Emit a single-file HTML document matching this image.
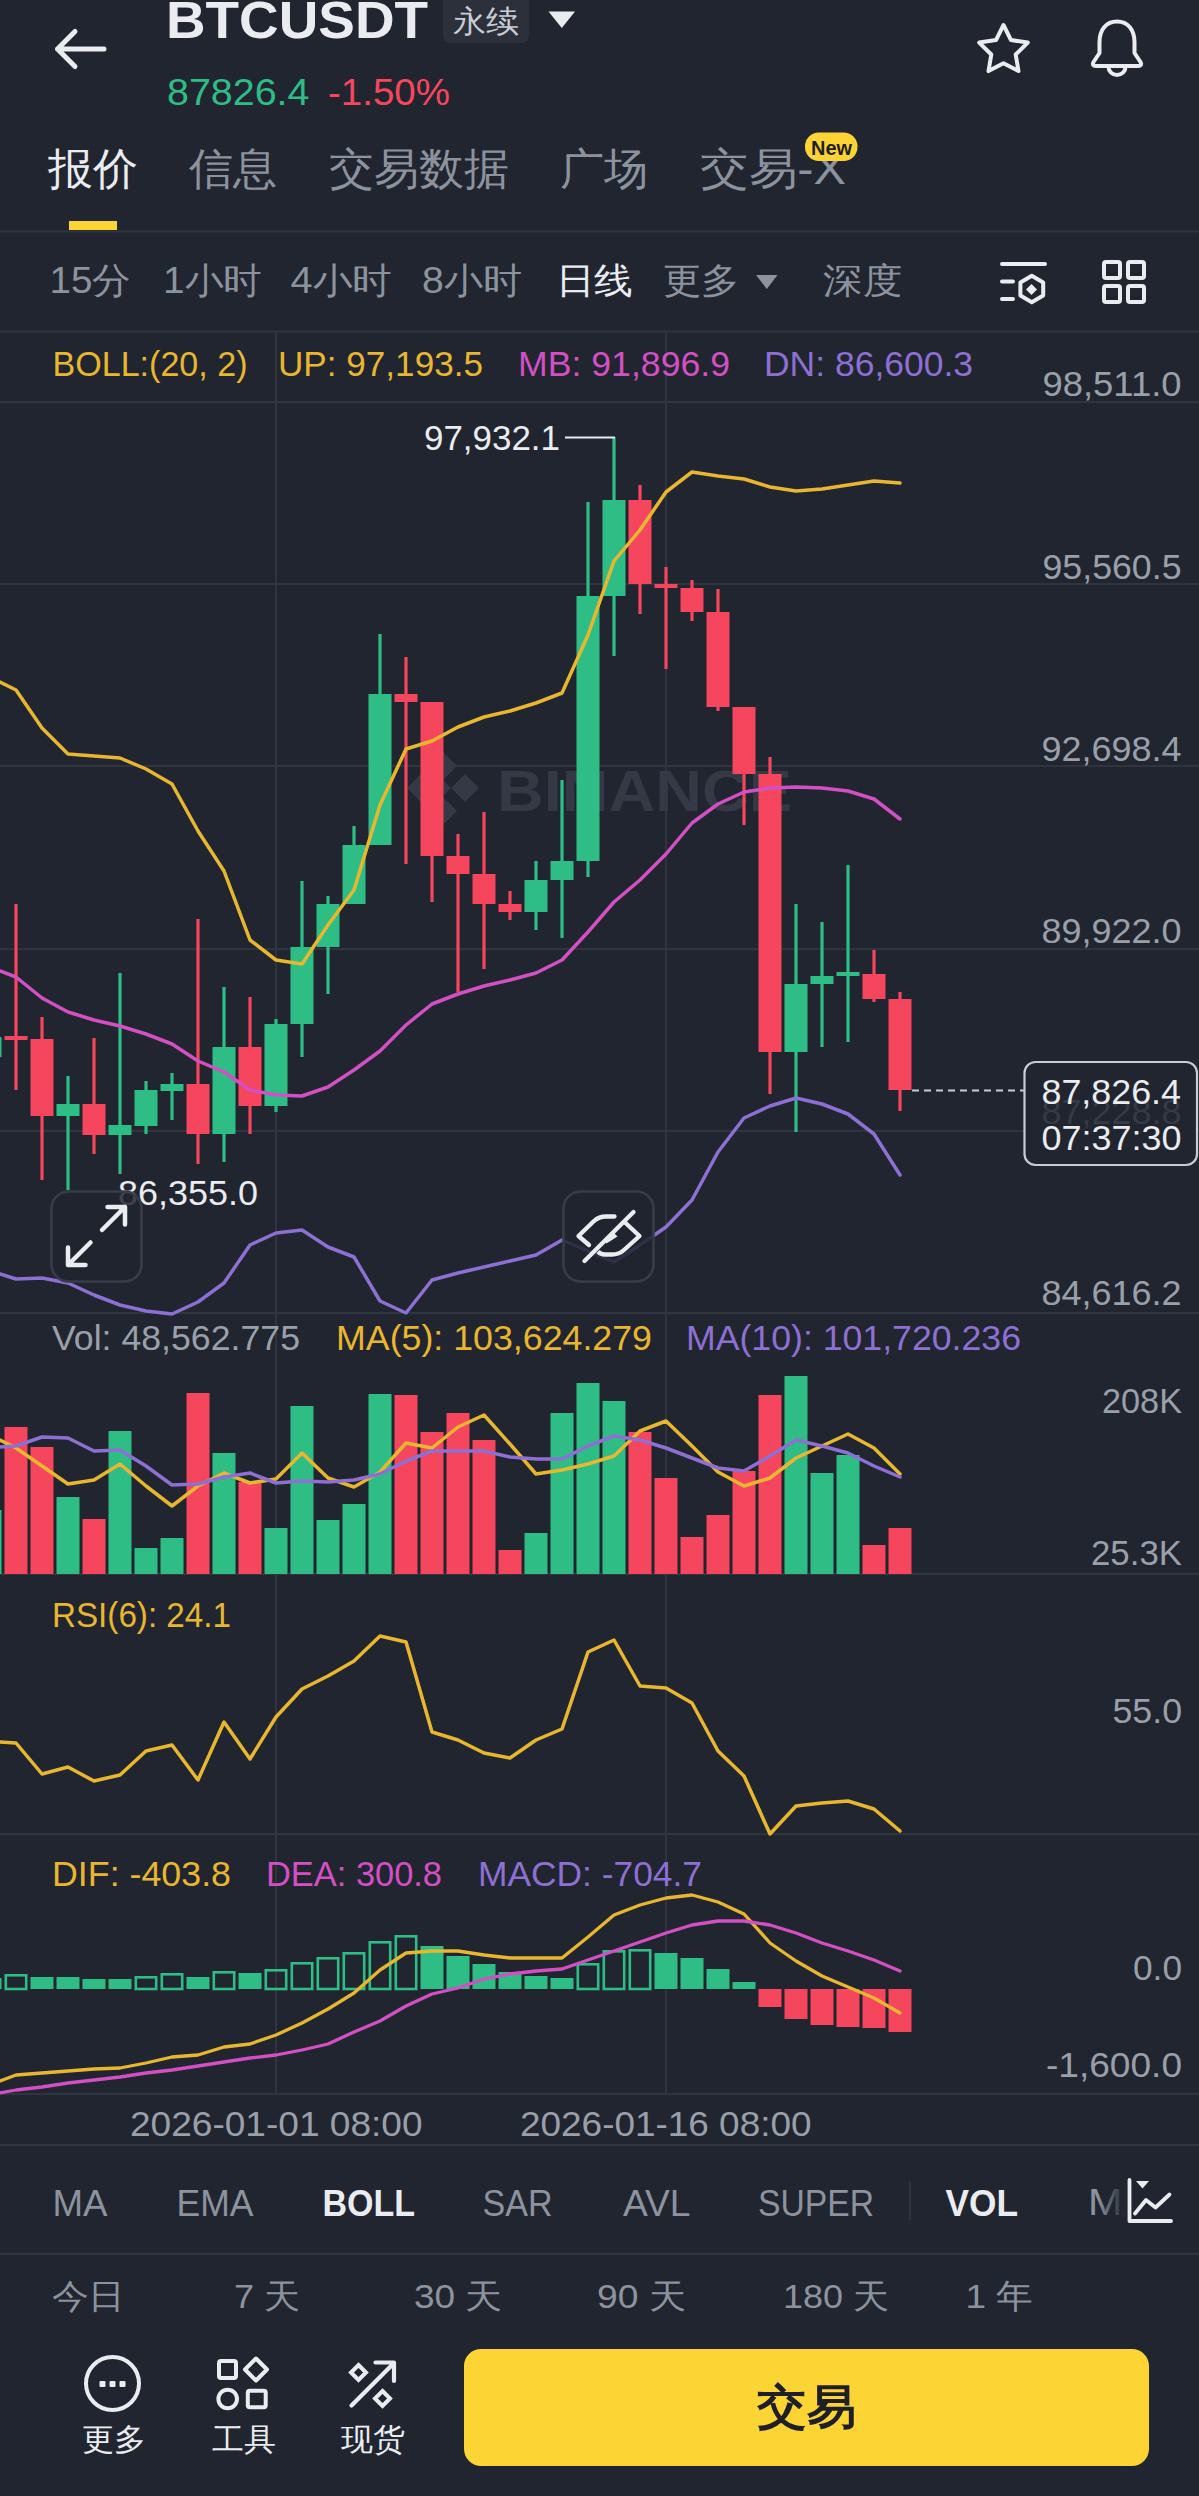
<!DOCTYPE html><html><head><meta charset="utf-8"><title>BTCUSDT</title><style>
html,body{margin:0;padding:0;background:#20252f;}
body{width:1199px;height:2496px;overflow:hidden;position:relative;font-family:"Liberation Sans", sans-serif;}
svg{position:absolute;left:0;top:0;display:block;}
text{font-family:"Liberation Sans", sans-serif;}
</style></head><body>
<svg width="1199" height="2496" viewBox="0 0 1199 2496">
<rect x="0" y="0" width="1199" height="2496" fill="#20252f"/>
<path d="M57.5 49 H104 M75 31.5 L57.5 49 L75 66.5" fill="none" stroke="#eaecef" stroke-width="5" stroke-linecap="round" stroke-linejoin="round"/>
<text x="166" y="38" font-size="52" fill="#eaecef" font-weight="bold" text-anchor="start" textLength="262" lengthAdjust="spacingAndGlyphs" >BTCUSDT</text>
<rect x="443" y="-8" width="86" height="51" rx="7" fill="#2b303b"/>
<text x="453" y="32" font-size="31" fill="#c9ccd2" font-weight="500" text-anchor="start" textLength="66" lengthAdjust="spacingAndGlyphs" >永续</text>
<path d="M548.5 11.5 H575 L561.8 28 Z" fill="#eaecef"/>
<text x="167" y="105" font-size="37" fill="#2ebd85" font-weight="normal" text-anchor="start" textLength="142.5" lengthAdjust="spacingAndGlyphs" >87826.4</text>
<text x="328" y="105" font-size="37" fill="#f6465d" font-weight="normal" text-anchor="start" textLength="122" lengthAdjust="spacingAndGlyphs" >-1.50%</text>
<polygon points="1003.5,25.0 1011.0,40.1 1027.8,42.6 1015.7,54.5 1018.5,71.1 1003.5,63.3 988.5,71.1 991.3,54.5 979.2,42.6 996.0,40.1" fill="none" stroke="#eaecef" stroke-width="4" stroke-linejoin="round"/>
<path d="M1117 21.5 C1106 21.5 1099.5 30 1099.5 42 V53 L1093.5 62 Q1091.5 66 1096 66 H1138 Q1142.5 66 1140.5 62 L1134.5 53 V42 C1134.5 30 1128 21.5 1117 21.5 Z" fill="none" stroke="#eaecef" stroke-width="4" stroke-linejoin="round"/>
<path d="M1108.5 67 A8.5 8 0 0 0 1125.5 67" fill="none" stroke="#eaecef" stroke-width="4"/>
<text x="48" y="184" font-size="44" fill="#eaecef" font-weight="500" text-anchor="start" textLength="90" lengthAdjust="spacingAndGlyphs" >报价</text>
<text x="189" y="184" font-size="44" fill="#8c939e" font-weight="500" text-anchor="start" textLength="88" lengthAdjust="spacingAndGlyphs" >信息</text>
<text x="329" y="184" font-size="44" fill="#8c939e" font-weight="500" text-anchor="start" textLength="180" lengthAdjust="spacingAndGlyphs" >交易数据</text>
<text x="560" y="184" font-size="44" fill="#8c939e" font-weight="500" text-anchor="start" textLength="88" lengthAdjust="spacingAndGlyphs" >广场</text>
<text x="700" y="184" font-size="44" fill="#8c939e" font-weight="500" text-anchor="start" textLength="146" lengthAdjust="spacingAndGlyphs" >交易-X</text>
<rect x="805" y="132.5" width="52.5" height="28.5" rx="14" fill="#fcd535"/>
<text x="811" y="154.5" font-size="21" fill="#1e2026" font-weight="bold" text-anchor="start" textLength="41" lengthAdjust="spacingAndGlyphs" >New</text>
<rect x="69" y="221" width="48" height="9" fill="#fcd535"/>
<rect x="0" y="230.5" width="1199" height="2" fill="#2f343e"/>
<text x="49.5" y="293" font-size="36" fill="#8c939e" font-weight="500" text-anchor="start" textLength="81.5" lengthAdjust="spacingAndGlyphs" >15分</text>
<text x="163" y="293" font-size="36" fill="#8c939e" font-weight="500" text-anchor="start" textLength="99" lengthAdjust="spacingAndGlyphs" >1小时</text>
<text x="290.5" y="293" font-size="36" fill="#8c939e" font-weight="500" text-anchor="start" textLength="101.5" lengthAdjust="spacingAndGlyphs" >4小时</text>
<text x="422" y="293" font-size="36" fill="#8c939e" font-weight="500" text-anchor="start" textLength="100" lengthAdjust="spacingAndGlyphs" >8小时</text>
<text x="555.5" y="293" font-size="36" fill="#eaecef" font-weight="500" text-anchor="start" textLength="77.5" lengthAdjust="spacingAndGlyphs" >日线</text>
<text x="663" y="293" font-size="36" fill="#8c939e" font-weight="500" text-anchor="start" textLength="76.5" lengthAdjust="spacingAndGlyphs" >更多</text>
<text x="823" y="293" font-size="36" fill="#8c939e" font-weight="500" text-anchor="start" textLength="79" lengthAdjust="spacingAndGlyphs" >深度</text>
<path d="M756 275 H777.5 L766.8 289 Z" fill="#8c939e"/>
<path d="M1002 264 H1045 M1002 281.5 H1013 M1002 299 H1013" stroke="#eaecef" stroke-width="4" stroke-linecap="round" fill="none"/>
<path d="M1031.8 275.8 L1043.2 282.4 V295.6 L1031.8 302.2 L1020.4 295.6 V282.4 Z" fill="none" stroke="#eaecef" stroke-width="4" stroke-linejoin="round"/>
<path d="M1031.5 284 L1037 289.5 L1031.5 295 L1026 289.5 Z" fill="#eaecef"/>
<rect x="1104" y="262" width="16" height="16" rx="2" fill="none" stroke="#eaecef" stroke-width="4"/>
<rect x="1128" y="262" width="16" height="16" rx="2" fill="none" stroke="#eaecef" stroke-width="4"/>
<rect x="1104" y="286" width="16" height="16" rx="2" fill="none" stroke="#eaecef" stroke-width="4"/>
<rect x="1128" y="286" width="16" height="16" rx="2" fill="none" stroke="#eaecef" stroke-width="4"/>
<rect x="0" y="330.5" width="1199" height="2" fill="#2f343e"/>
<rect x="0" y="401" width="1199" height="2" fill="#2f343e"/>
<rect x="0" y="583" width="1199" height="2" fill="#2f343e"/>
<rect x="0" y="765" width="1199" height="2" fill="#2f343e"/>
<rect x="0" y="948" width="1199" height="2" fill="#2f343e"/>
<rect x="0" y="1130" width="1199" height="2" fill="#2f343e"/>
<rect x="0" y="1312" width="1199" height="2" fill="#2f343e"/>
<rect x="0" y="1573" width="1199" height="2" fill="#2f343e"/>
<rect x="0" y="1833" width="1199" height="2" fill="#2f343e"/>
<rect x="0" y="2093" width="1199" height="2" fill="#2f343e"/>
<rect x="0" y="2144" width="1199" height="2" fill="#2f343e"/>
<rect x="0" y="2253" width="1199" height="2" fill="#2f343e"/>
<rect x="275" y="332" width="2" height="1762" fill="#2f343e"/>
<rect x="665" y="332" width="2" height="1762" fill="#2f343e"/>
<g fill="#343945">
<path d="M443 752 L457 766 L443 780 L429 766 Z"/>
<path d="M443 797 L457 811 L443 825 L429 811 Z"/>
<path d="M421 774 L435 788 L421 802 L407 788 Z"/>
<path d="M465 774 L479 788 L465 802 L451 788 Z"/>
<path d="M443 780 L451 788 L443 796 L435 788 Z"/>
</g>
<text x="497" y="811" font-size="58" fill="#343945" font-weight="bold" text-anchor="start" textLength="295" lengthAdjust="spacingAndGlyphs" >BINANCE</text>
<rect x="-11.6" y="1030" width="3.2" height="34" fill="#2ebd85"/>
<rect x="-21.5" y="1037" width="23" height="20" fill="#2ebd85"/>
<rect x="14.4" y="904" width="3.2" height="186" fill="#f6465d"/>
<rect x="4.5" y="1036" width="23" height="4" fill="#f6465d"/>
<rect x="40.4" y="1017" width="3.2" height="163" fill="#f6465d"/>
<rect x="30.5" y="1039" width="23" height="77" fill="#f6465d"/>
<rect x="66.4" y="1076" width="3.2" height="114" fill="#2ebd85"/>
<rect x="56.5" y="1104" width="23" height="12" fill="#2ebd85"/>
<rect x="92.4" y="1038" width="3.2" height="116" fill="#f6465d"/>
<rect x="82.5" y="1104" width="23" height="31" fill="#f6465d"/>
<rect x="118.4" y="973" width="3.2" height="201" fill="#2ebd85"/>
<rect x="108.5" y="1125" width="23" height="10" fill="#2ebd85"/>
<rect x="144.4" y="1081" width="3.2" height="53" fill="#2ebd85"/>
<rect x="134.5" y="1090" width="23" height="36" fill="#2ebd85"/>
<rect x="170.4" y="1073" width="3.2" height="47" fill="#2ebd85"/>
<rect x="160.5" y="1084" width="23" height="7" fill="#2ebd85"/>
<rect x="196.4" y="919" width="3.2" height="245" fill="#f6465d"/>
<rect x="186.5" y="1084" width="23" height="50" fill="#f6465d"/>
<rect x="222.4" y="987" width="3.2" height="175" fill="#2ebd85"/>
<rect x="212.5" y="1047" width="23" height="87" fill="#2ebd85"/>
<rect x="248.4" y="997" width="3.2" height="137" fill="#f6465d"/>
<rect x="238.5" y="1047" width="23" height="59" fill="#f6465d"/>
<rect x="274.4" y="1019" width="3.2" height="93" fill="#2ebd85"/>
<rect x="264.5" y="1024" width="23" height="82" fill="#2ebd85"/>
<rect x="300.4" y="881" width="3.2" height="176" fill="#2ebd85"/>
<rect x="290.5" y="947" width="23" height="77" fill="#2ebd85"/>
<rect x="326.4" y="896" width="3.2" height="98" fill="#2ebd85"/>
<rect x="316.5" y="904" width="23" height="43" fill="#2ebd85"/>
<rect x="352.4" y="826" width="3.2" height="78" fill="#2ebd85"/>
<rect x="342.5" y="845" width="23" height="59" fill="#2ebd85"/>
<rect x="378.4" y="634" width="3.2" height="211" fill="#2ebd85"/>
<rect x="368.5" y="694" width="23" height="151" fill="#2ebd85"/>
<rect x="404.4" y="657" width="3.2" height="207" fill="#f6465d"/>
<rect x="394.5" y="694" width="23" height="8" fill="#f6465d"/>
<rect x="430.4" y="702" width="3.2" height="200" fill="#f6465d"/>
<rect x="420.5" y="702" width="23" height="154" fill="#f6465d"/>
<rect x="456.4" y="834" width="3.2" height="158" fill="#f6465d"/>
<rect x="446.5" y="856" width="23" height="18" fill="#f6465d"/>
<rect x="482.4" y="812" width="3.2" height="157" fill="#f6465d"/>
<rect x="472.5" y="874" width="23" height="30" fill="#f6465d"/>
<rect x="508.4" y="891" width="3.2" height="29" fill="#f6465d"/>
<rect x="498.5" y="904" width="23" height="8" fill="#f6465d"/>
<rect x="534.4" y="861" width="3.2" height="69" fill="#2ebd85"/>
<rect x="524.5" y="880" width="23" height="32" fill="#2ebd85"/>
<rect x="560.4" y="780" width="3.2" height="158" fill="#2ebd85"/>
<rect x="550.5" y="861" width="23" height="19" fill="#2ebd85"/>
<rect x="586.4" y="502" width="3.2" height="375" fill="#2ebd85"/>
<rect x="576.5" y="596" width="23" height="265" fill="#2ebd85"/>
<rect x="612.4" y="437" width="3.2" height="219" fill="#2ebd85"/>
<rect x="602.5" y="500" width="23" height="96" fill="#2ebd85"/>
<rect x="638.4" y="485" width="3.2" height="129" fill="#f6465d"/>
<rect x="628.5" y="500" width="23" height="84" fill="#f6465d"/>
<rect x="664.4" y="567" width="3.2" height="102" fill="#f6465d"/>
<rect x="654.5" y="584" width="23" height="4" fill="#f6465d"/>
<rect x="690.4" y="580" width="3.2" height="41" fill="#f6465d"/>
<rect x="680.5" y="588" width="23" height="24" fill="#f6465d"/>
<rect x="716.4" y="589" width="3.2" height="122" fill="#f6465d"/>
<rect x="706.5" y="612" width="23" height="95" fill="#f6465d"/>
<rect x="742.4" y="707" width="3.2" height="118" fill="#f6465d"/>
<rect x="732.5" y="707" width="23" height="67" fill="#f6465d"/>
<rect x="768.4" y="757" width="3.2" height="337" fill="#f6465d"/>
<rect x="758.5" y="774" width="23" height="278" fill="#f6465d"/>
<rect x="794.4" y="904" width="3.2" height="228" fill="#2ebd85"/>
<rect x="784.5" y="984" width="23" height="68" fill="#2ebd85"/>
<rect x="820.4" y="922" width="3.2" height="125" fill="#2ebd85"/>
<rect x="810.5" y="976" width="23" height="8" fill="#2ebd85"/>
<rect x="846.4" y="865" width="3.2" height="177" fill="#2ebd85"/>
<rect x="836.5" y="972" width="23" height="4" fill="#2ebd85"/>
<rect x="872.4" y="950" width="3.2" height="52" fill="#f6465d"/>
<rect x="862.5" y="974" width="23" height="25" fill="#f6465d"/>
<rect x="898.4" y="992" width="3.2" height="119" fill="#f6465d"/>
<rect x="888.5" y="999" width="23" height="91" fill="#f6465d"/>
<polyline points="0,682 16,690 42,728 68,754 94,756 120,758 146,769 172,784 198,831 224,871 250,940 276,960 302,964 328,925 354,890 380,805 406,749 432,741 458,727 484,717 510,711 536,703 562,693 588,635 614,561 640,530 666,492 692,472 718,476 744,479 770,487 796,491 822,489 848,485 874,481 900,483" fill="none" stroke="#e9b62f" stroke-width="3.5" stroke-linejoin="round" stroke-linecap="round"/>
<polyline points="0,971 16,977 42,998 68,1012 94,1020 120,1026 146,1034 172,1044 198,1061 224,1072 250,1090 276,1095 302,1096 328,1087 354,1070 380,1051 406,1025 432,1004 458,994 484,986 510,980 536,973 562,960 588,932 614,902 640,880 666,854 692,823 718,804 744,792 770,788 796,787 822,788 848,791 874,799 900,819" fill="none" stroke="#d34fc4" stroke-width="3.5" stroke-linejoin="round" stroke-linecap="round"/>
<polyline points="0,1274 16,1279 42,1278 68,1283 94,1295 120,1305 146,1311 172,1314 198,1302 224,1283 250,1245 276,1233 302,1230 328,1247 354,1257 380,1301 406,1313 432,1280 458,1273 484,1267 510,1261 536,1255 562,1240 588,1251 614,1262 640,1245 666,1227 692,1200 718,1152 744,1118 770,1106 796,1098 822,1104 848,1114 874,1134 900,1175" fill="none" stroke="#8e6fd3" stroke-width="3.5" stroke-linejoin="round" stroke-linecap="round"/>
<text x="424" y="450" font-size="35.5" fill="#eaecef" font-weight="normal" text-anchor="start" textLength="136" lengthAdjust="spacingAndGlyphs" >97,932.1</text>
<rect x="565" y="436.5" width="50" height="2" fill="#eaecef"/>
<text x="118" y="1205" font-size="35.5" fill="#eaecef" font-weight="normal" text-anchor="start" textLength="140" lengthAdjust="spacingAndGlyphs" >86,355.0</text>
<rect x="51.5" y="1191.5" width="90" height="90" rx="17" fill="#20252f" fill-opacity="0.85" stroke="#373c47" stroke-width="2.6"/>
<rect x="563.5" y="1191.5" width="90" height="90" rx="17" fill="#20252f" fill-opacity="0.85" stroke="#373c47" stroke-width="2.6"/>
<path d="M125 1207 L102 1230 M107.5 1207 H125 V1224.5 M68 1265 L90.5 1242.5 M68 1247.5 V1265 H85.5" fill="none" stroke="#eaecef" stroke-width="4.5" stroke-linecap="round" stroke-linejoin="round"/>
<path d="M589 1245 L578.5 1236 L594 1221 Q599 1216.5 606 1216.5 H614.5" fill="none" stroke="#eaecef" stroke-width="4.3" stroke-linecap="round" stroke-linejoin="round"/>
<path d="M624.5 1222 L639.5 1236 L624 1250 Q619 1254.5 612 1254.5 H605 Q600.5 1254.5 598 1251.5" fill="none" stroke="#eaecef" stroke-width="4.3" stroke-linejoin="round"/>
<path d="M584.5 1261 L633.5 1212" fill="none" stroke="#eaecef" stroke-width="4.3" stroke-linecap="round"/>
<path d="M606.5 1243.5 L617.5 1236.5 L614 1233 L604 1240 Z" fill="#eaecef"/>
<line x1="912" y1="1090.5" x2="1024" y2="1090.5" stroke="#c9ccd2" stroke-width="2.2" stroke-dasharray="7 5"/>
<rect x="1024.5" y="1062" width="172.5" height="103" rx="11" fill="#20252f" stroke="#c9ccd2" stroke-width="2.2"/>
<text x="1041.5" y="1124" font-size="35.5" fill="#353a45" font-weight="normal" text-anchor="start" textLength="140" lengthAdjust="spacingAndGlyphs" >87,228.8</text>
<text x="1041.5" y="1103.5" font-size="35.5" fill="#eaecef" font-weight="normal" text-anchor="start" textLength="139.5" lengthAdjust="spacingAndGlyphs" >87,826.4</text>
<text x="1041.5" y="1150" font-size="35.5" fill="#eaecef" font-weight="normal" text-anchor="start" textLength="140" lengthAdjust="spacingAndGlyphs" >07:37:30</text>
<text x="1042.5" y="396" font-size="35.5" fill="#9aa0aa" font-weight="normal" text-anchor="start" textLength="139.0" lengthAdjust="spacingAndGlyphs" >98,511.0</text>
<text x="1042.5" y="579" font-size="35.5" fill="#9aa0aa" font-weight="normal" text-anchor="start" textLength="139.0" lengthAdjust="spacingAndGlyphs" >95,560.5</text>
<text x="1041.5" y="761" font-size="35.5" fill="#9aa0aa" font-weight="normal" text-anchor="start" textLength="140.0" lengthAdjust="spacingAndGlyphs" >92,698.4</text>
<text x="1041.5" y="942.7" font-size="35.5" fill="#9aa0aa" font-weight="normal" text-anchor="start" textLength="140.0" lengthAdjust="spacingAndGlyphs" >89,922.0</text>
<text x="1041.5" y="1304.5" font-size="35.5" fill="#9aa0aa" font-weight="normal" text-anchor="start" textLength="140.0" lengthAdjust="spacingAndGlyphs" >84,616.2</text>
<text x="52.5" y="375.5" font-size="35.5" fill="#e9b62f" font-weight="normal" text-anchor="start" textLength="195" lengthAdjust="spacingAndGlyphs" >BOLL:(20, 2)</text>
<text x="278" y="375.5" font-size="35.5" fill="#e9b62f" font-weight="normal" text-anchor="start" textLength="205" lengthAdjust="spacingAndGlyphs" >UP: 97,193.5</text>
<text x="518" y="375.5" font-size="35.5" fill="#d34fc4" font-weight="normal" text-anchor="start" textLength="212" lengthAdjust="spacingAndGlyphs" >MB: 91,896.9</text>
<text x="764" y="375.5" font-size="35.5" fill="#8e6fd3" font-weight="normal" text-anchor="start" textLength="209" lengthAdjust="spacingAndGlyphs" >DN: 86,600.3</text>
<rect x="-21.5" y="1510" width="23" height="64" fill="#2ebd85"/>
<rect x="4.5" y="1427" width="23" height="147" fill="#f6465d"/>
<rect x="30.5" y="1447" width="23" height="127" fill="#f6465d"/>
<rect x="56.5" y="1497" width="23" height="77" fill="#2ebd85"/>
<rect x="82.5" y="1519" width="23" height="55" fill="#f6465d"/>
<rect x="108.5" y="1431" width="23" height="143" fill="#2ebd85"/>
<rect x="134.5" y="1548" width="23" height="26" fill="#2ebd85"/>
<rect x="160.5" y="1538" width="23" height="36" fill="#2ebd85"/>
<rect x="186.5" y="1393" width="23" height="181" fill="#f6465d"/>
<rect x="212.5" y="1453" width="23" height="121" fill="#2ebd85"/>
<rect x="238.5" y="1482" width="23" height="92" fill="#f6465d"/>
<rect x="264.5" y="1528" width="23" height="46" fill="#2ebd85"/>
<rect x="290.5" y="1406" width="23" height="168" fill="#2ebd85"/>
<rect x="316.5" y="1520" width="23" height="54" fill="#2ebd85"/>
<rect x="342.5" y="1504" width="23" height="70" fill="#2ebd85"/>
<rect x="368.5" y="1394" width="23" height="180" fill="#2ebd85"/>
<rect x="394.5" y="1395" width="23" height="179" fill="#f6465d"/>
<rect x="420.5" y="1432" width="23" height="142" fill="#f6465d"/>
<rect x="446.5" y="1413" width="23" height="161" fill="#f6465d"/>
<rect x="472.5" y="1440" width="23" height="134" fill="#f6465d"/>
<rect x="498.5" y="1550" width="23" height="24" fill="#f6465d"/>
<rect x="524.5" y="1533" width="23" height="41" fill="#2ebd85"/>
<rect x="550.5" y="1413" width="23" height="161" fill="#2ebd85"/>
<rect x="576.5" y="1383" width="23" height="191" fill="#2ebd85"/>
<rect x="602.5" y="1401" width="23" height="173" fill="#2ebd85"/>
<rect x="628.5" y="1432" width="23" height="142" fill="#f6465d"/>
<rect x="654.5" y="1478" width="23" height="96" fill="#f6465d"/>
<rect x="680.5" y="1537" width="23" height="37" fill="#f6465d"/>
<rect x="706.5" y="1515" width="23" height="59" fill="#f6465d"/>
<rect x="732.5" y="1471" width="23" height="103" fill="#f6465d"/>
<rect x="758.5" y="1395" width="23" height="179" fill="#f6465d"/>
<rect x="784.5" y="1376" width="23" height="198" fill="#2ebd85"/>
<rect x="810.5" y="1473" width="23" height="101" fill="#2ebd85"/>
<rect x="836.5" y="1455" width="23" height="119" fill="#2ebd85"/>
<rect x="862.5" y="1545" width="23" height="29" fill="#f6465d"/>
<rect x="888.5" y="1528" width="23" height="46" fill="#f6465d"/>
<polyline points="0,1440 16,1448 42,1466 68,1484 94,1480 120,1464 146,1486 172,1506 198,1486 224,1473 250,1483 276,1479 302,1453 328,1478 354,1487 380,1472 406,1443 432,1448 458,1427 484,1415 510,1444 536,1474 562,1470 588,1464 614,1456 640,1431 666,1421 692,1446 718,1472 744,1486 770,1478 796,1458 822,1446 848,1434 874,1448 900,1474" fill="none" stroke="#e9b62f" stroke-width="3.5" stroke-linejoin="round" stroke-linecap="round"/>
<polyline points="0,1447 16,1446 42,1437 68,1438 94,1451 120,1450 146,1466 172,1485 198,1484 224,1477 250,1473 276,1483 302,1481 328,1482 354,1480 380,1474 406,1461 432,1451 458,1451 484,1451 510,1457 536,1459 562,1459 588,1446 614,1436 640,1440 666,1448 692,1458 718,1468 744,1471 770,1456 796,1440 822,1446 848,1453 874,1466 900,1477" fill="none" stroke="#8e6fd3" stroke-width="3.5" stroke-linejoin="round" stroke-linecap="round"/>
<text x="52" y="1350" font-size="35.5" fill="#9aa0aa" font-weight="normal" text-anchor="start" textLength="248" lengthAdjust="spacingAndGlyphs" >Vol: 48,562.775</text>
<text x="336" y="1350" font-size="35.5" fill="#e9b62f" font-weight="normal" text-anchor="start" textLength="316" lengthAdjust="spacingAndGlyphs" >MA(5): 103,624.279</text>
<text x="686" y="1350" font-size="35.5" fill="#8e6fd3" font-weight="normal" text-anchor="start" textLength="335" lengthAdjust="spacingAndGlyphs" >MA(10): 101,720.236</text>
<text x="1102" y="1413" font-size="35.5" fill="#9aa0aa" font-weight="normal" text-anchor="start" textLength="80" lengthAdjust="spacingAndGlyphs" >208K</text>
<text x="1091" y="1565" font-size="35.5" fill="#9aa0aa" font-weight="normal" text-anchor="start" textLength="91" lengthAdjust="spacingAndGlyphs" >25.3K</text>
<polyline points="0,1742 16,1743 42,1774 68,1767 94,1781 120,1775 146,1751 172,1745 198,1780 224,1722 250,1759 276,1717 302,1689 328,1676 354,1661 380,1636 406,1642 432,1732 458,1740 484,1753 510,1758 536,1740 562,1729 588,1652 614,1640 640,1686 666,1688 692,1703 718,1751 744,1776 770,1834 796,1806 822,1803 848,1801 874,1809 900,1831" fill="none" stroke="#e9b62f" stroke-width="3.5" stroke-linejoin="round" stroke-linecap="round"/>
<text x="52" y="1627" font-size="35.5" fill="#e9b62f" font-weight="normal" text-anchor="start" textLength="179" lengthAdjust="spacingAndGlyphs" >RSI(6): 24.1</text>
<text x="1112.5" y="1723" font-size="35.5" fill="#9aa0aa" font-weight="normal" text-anchor="start" textLength="69.5" lengthAdjust="spacingAndGlyphs" >55.0</text>
<rect x="-21.5" y="1978" width="23" height="11" fill="#2ebd85"/>
<rect x="5.800000000000001" y="1975.3" width="20.4" height="13.7" fill="none" stroke="#2ebd85" stroke-width="2.6"/>
<rect x="30.5" y="1977" width="23" height="12" fill="#2ebd85"/>
<rect x="56.5" y="1977" width="23" height="12" fill="#2ebd85"/>
<rect x="82.5" y="1979" width="23" height="10" fill="#2ebd85"/>
<rect x="108.5" y="1979" width="23" height="10" fill="#2ebd85"/>
<rect x="135.8" y="1977.3" width="20.4" height="11.7" fill="none" stroke="#2ebd85" stroke-width="2.6"/>
<rect x="161.8" y="1974.3" width="20.4" height="14.7" fill="none" stroke="#2ebd85" stroke-width="2.6"/>
<rect x="186.5" y="1977" width="23" height="12" fill="#2ebd85"/>
<rect x="213.8" y="1972.3" width="20.4" height="16.7" fill="none" stroke="#2ebd85" stroke-width="2.6"/>
<rect x="238.5" y="1973" width="23" height="16" fill="#2ebd85"/>
<rect x="265.8" y="1970.3" width="20.4" height="18.7" fill="none" stroke="#2ebd85" stroke-width="2.6"/>
<rect x="291.8" y="1963.3" width="20.4" height="25.7" fill="none" stroke="#2ebd85" stroke-width="2.6"/>
<rect x="317.8" y="1958.3" width="20.4" height="30.7" fill="none" stroke="#2ebd85" stroke-width="2.6"/>
<rect x="343.8" y="1953.3" width="20.4" height="35.7" fill="none" stroke="#2ebd85" stroke-width="2.6"/>
<rect x="369.8" y="1942.3" width="20.4" height="46.7" fill="none" stroke="#2ebd85" stroke-width="2.6"/>
<rect x="395.8" y="1936.3" width="20.4" height="52.7" fill="none" stroke="#2ebd85" stroke-width="2.6"/>
<rect x="420.5" y="1946" width="23" height="43" fill="#2ebd85"/>
<rect x="446.5" y="1956" width="23" height="33" fill="#2ebd85"/>
<rect x="472.5" y="1964" width="23" height="25" fill="#2ebd85"/>
<rect x="498.5" y="1972" width="23" height="17" fill="#2ebd85"/>
<rect x="524.5" y="1976" width="23" height="13" fill="#2ebd85"/>
<rect x="550.5" y="1978" width="23" height="11" fill="#2ebd85"/>
<rect x="577.8" y="1964.3" width="20.4" height="24.7" fill="none" stroke="#2ebd85" stroke-width="2.6"/>
<rect x="603.8" y="1951.3" width="20.4" height="37.7" fill="none" stroke="#2ebd85" stroke-width="2.6"/>
<rect x="629.8" y="1950.3" width="20.4" height="38.7" fill="none" stroke="#2ebd85" stroke-width="2.6"/>
<rect x="654.5" y="1953" width="23" height="36" fill="#2ebd85"/>
<rect x="680.5" y="1958" width="23" height="31" fill="#2ebd85"/>
<rect x="706.5" y="1969" width="23" height="20" fill="#2ebd85"/>
<rect x="732.5" y="1982" width="23" height="7" fill="#2ebd85"/>
<rect x="758.5" y="1989" width="23" height="18" fill="#f6465d"/>
<rect x="784.5" y="1989" width="23" height="30" fill="#f6465d"/>
<rect x="810.5" y="1989" width="23" height="36" fill="#f6465d"/>
<rect x="836.5" y="1989" width="23" height="38" fill="#f6465d"/>
<rect x="862.5" y="1989" width="23" height="39" fill="#f6465d"/>
<rect x="888.5" y="1989" width="23" height="43" fill="#f6465d"/>
<polyline points="0,2081 16,2075 42,2073 68,2071 94,2069 120,2068 146,2063 172,2057 198,2055 224,2047 250,2044 276,2035 302,2023 328,2009 354,1993 380,1970 406,1953 432,1951 458,1951 484,1955 510,1958 536,1958 562,1958 588,1937 614,1915 640,1905 666,1898 692,1895 718,1902 744,1914 770,1943 796,1961 822,1976 848,1987 874,1998 900,2013" fill="none" stroke="#e9b62f" stroke-width="3.3" stroke-linejoin="round" stroke-linecap="round"/>
<polyline points="0,2093 16,2090 42,2087 68,2083 94,2080 120,2077 146,2073 172,2070 198,2066 224,2062 250,2058 276,2055 302,2050 328,2044 354,2032 380,2021 406,2006 432,1994 458,1988 484,1979 510,1974 536,1971 562,1969 588,1960 614,1951 640,1942 666,1933 692,1925 718,1921 744,1921 770,1925 796,1933 822,1943 848,1951 874,1960 900,1971" fill="none" stroke="#d34fc4" stroke-width="3.3" stroke-linejoin="round" stroke-linecap="round"/>
<text x="52" y="1886" font-size="35.5" fill="#e9b62f" font-weight="normal" text-anchor="start" textLength="179" lengthAdjust="spacingAndGlyphs" >DIF: -403.8</text>
<text x="266" y="1886" font-size="35.5" fill="#d34fc4" font-weight="normal" text-anchor="start" textLength="176" lengthAdjust="spacingAndGlyphs" >DEA: 300.8</text>
<text x="478" y="1886" font-size="35.5" fill="#8e6fd3" font-weight="normal" text-anchor="start" textLength="224" lengthAdjust="spacingAndGlyphs" >MACD: -704.7</text>
<text x="1133" y="1979.5" font-size="35.5" fill="#9aa0aa" font-weight="normal" text-anchor="start" textLength="49" lengthAdjust="spacingAndGlyphs" >0.0</text>
<text x="1046" y="2077" font-size="35.5" fill="#9aa0aa" font-weight="normal" text-anchor="start" textLength="136" lengthAdjust="spacingAndGlyphs" >-1,600.0</text>
<text x="130" y="2136" font-size="35.5" fill="#9aa0aa" font-weight="normal" text-anchor="start" textLength="292.5" lengthAdjust="spacingAndGlyphs" >2026-01-01 08:00</text>
<text x="520" y="2136" font-size="35.5" fill="#9aa0aa" font-weight="normal" text-anchor="start" textLength="291.5" lengthAdjust="spacingAndGlyphs" >2026-01-16 08:00</text>
<text x="52.5" y="2216" font-size="37" fill="#8c939e" font-weight="normal" text-anchor="start" textLength="55.0" lengthAdjust="spacingAndGlyphs" >MA</text>
<text x="176.5" y="2216" font-size="37" fill="#8c939e" font-weight="normal" text-anchor="start" textLength="77.0" lengthAdjust="spacingAndGlyphs" >EMA</text>
<text x="322.5" y="2216" font-size="37" fill="#eaecef" font-weight="bold" text-anchor="start" textLength="92.5" lengthAdjust="spacingAndGlyphs" >BOLL</text>
<text x="482.5" y="2216" font-size="37" fill="#8c939e" font-weight="normal" text-anchor="start" textLength="70.0" lengthAdjust="spacingAndGlyphs" >SAR</text>
<text x="623" y="2216" font-size="37" fill="#8c939e" font-weight="normal" text-anchor="start" textLength="67.5" lengthAdjust="spacingAndGlyphs" >AVL</text>
<text x="758" y="2216" font-size="37" fill="#8c939e" font-weight="normal" text-anchor="start" textLength="116" lengthAdjust="spacingAndGlyphs" >SUPER</text>
<text x="945.5" y="2216" font-size="37" fill="#eaecef" font-weight="bold" text-anchor="start" textLength="72.5" lengthAdjust="spacingAndGlyphs" >VOL</text>
<rect x="909" y="2182" width="2" height="38" fill="#2f343e"/>
<defs><linearGradient id="fade" gradientUnits="userSpaceOnUse" x1="1098" y1="0" x2="1126" y2="0"><stop offset="0" stop-color="#8c939e"/><stop offset="1" stop-color="#8c939e" stop-opacity="0"/></linearGradient></defs>
<text x="1088" y="2215" font-size="37" fill="url(#fade)" font-weight="normal" text-anchor="start" textLength="62" lengthAdjust="spacingAndGlyphs" >MA</text>
<path d="M1129.5 2180 V2221 H1171" fill="none" stroke="#eaecef" stroke-width="3.8" stroke-linecap="round" stroke-linejoin="round"/>
<path d="M1135 2213.5 L1146 2200 L1155.5 2207.5 L1169.5 2194.5" fill="none" stroke="#eaecef" stroke-width="3.8" stroke-linecap="round" stroke-linejoin="round"/>
<path d="M1136 2181 H1149 L1142.5 2188.5 Z" fill="#eaecef"/>
<text x="51.5" y="2308" font-size="34" fill="#8c939e" font-weight="500" text-anchor="start" textLength="73.5" lengthAdjust="spacingAndGlyphs" >今日</text>
<text x="234" y="2308" font-size="34" fill="#8c939e" font-weight="500" text-anchor="start" textLength="66" lengthAdjust="spacingAndGlyphs" >7 天</text>
<text x="414" y="2308" font-size="34" fill="#8c939e" font-weight="500" text-anchor="start" textLength="88.5" lengthAdjust="spacingAndGlyphs" >30 天</text>
<text x="597" y="2308" font-size="34" fill="#8c939e" font-weight="500" text-anchor="start" textLength="89" lengthAdjust="spacingAndGlyphs" >90 天</text>
<text x="783" y="2308" font-size="34" fill="#8c939e" font-weight="500" text-anchor="start" textLength="106" lengthAdjust="spacingAndGlyphs" >180 天</text>
<text x="965.5" y="2308" font-size="34" fill="#8c939e" font-weight="500" text-anchor="start" textLength="67.5" lengthAdjust="spacingAndGlyphs" >1 年</text>
<circle cx="112.5" cy="2383.5" r="26.5" fill="none" stroke="#eaecef" stroke-width="4"/>
<rect x="99.5" y="2381" width="6" height="6" rx="1" fill="#eaecef"/>
<rect x="109.5" y="2381" width="6" height="6" rx="1" fill="#eaecef"/>
<rect x="119.5" y="2381" width="6" height="6" rx="1" fill="#eaecef"/>
<text x="82" y="2450" font-size="31" fill="#eaecef" font-weight="500" text-anchor="start" textLength="64" lengthAdjust="spacingAndGlyphs" >更多</text>
<rect x="219" y="2361" width="17" height="17" rx="2" fill="none" stroke="#eaecef" stroke-width="4"/>
<path d="M256 2358.5 L267 2369.5 L256 2380.5 L245 2369.5 Z" fill="none" stroke="#eaecef" stroke-width="4" stroke-linejoin="round"/>
<circle cx="227.7" cy="2399" r="9.3" fill="none" stroke="#eaecef" stroke-width="4"/>
<rect x="247.8" y="2390.7" width="17.9" height="16.5" rx="2" fill="none" stroke="#eaecef" stroke-width="4"/>
<text x="212" y="2450" font-size="31" fill="#eaecef" font-weight="500" text-anchor="start" textLength="64" lengthAdjust="spacingAndGlyphs" >工具</text>
<path d="M351.5 2405.5 L393.5 2363.5 M375.5 2362.5 H394 V2381" fill="none" stroke="#eaecef" stroke-width="4.2" stroke-linecap="round" stroke-linejoin="round"/>
<path d="M358.5 2365 L366 2372.5 L358.5 2380 L351 2372.5 Z" fill="none" stroke="#eaecef" stroke-width="4"/>
<path d="M382.5 2391 L390 2398.5 L382.5 2406 L375 2398.5 Z" fill="none" stroke="#eaecef" stroke-width="4"/>
<text x="341" y="2450" font-size="31" fill="#eaecef" font-weight="500" text-anchor="start" textLength="64" lengthAdjust="spacingAndGlyphs" >现货</text>
<rect x="464" y="2349" width="685" height="117" rx="17" fill="#fcd535"/>
<text x="757" y="2423" font-size="47" fill="#1e2026" font-weight="bold" text-anchor="start" textLength="99" lengthAdjust="spacingAndGlyphs" >交易</text>
</svg></body></html>
